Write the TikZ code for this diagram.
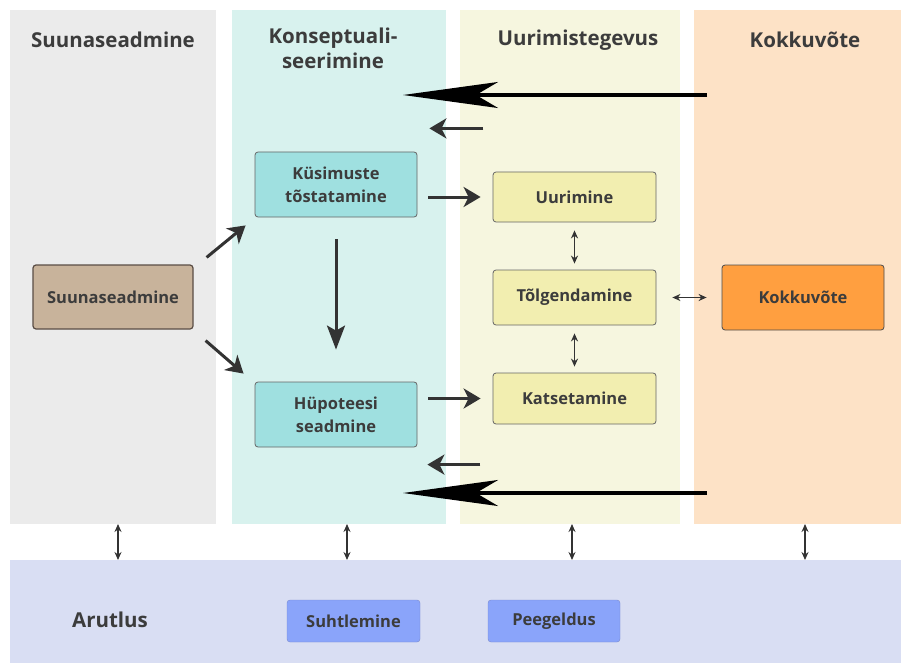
\documentclass[tikz,border=0pt]{standalone}
\usepackage{fontspec}
\setmainfont{Open Sans}
\usetikzlibrary{arrows.meta}
\definecolor{txt}{HTML}{3C3C3C}
\definecolor{lanegray}{HTML}{EBEBEB}
\definecolor{laneteal}{HTML}{D8F2EE}
\definecolor{laneyel}{HTML}{F6F6DF}
\definecolor{laneora}{HTML}{FDE2C6}
\definecolor{laneblue}{HTML}{D9DEF3}
\definecolor{tanfill}{HTML}{C8B39B}
\definecolor{tandraw}{HTML}{5A4D45}
\definecolor{tealfill}{HTML}{9FE0E0}
\definecolor{yelfill}{HTML}{F2EEB0}
\definecolor{orafill}{HTML}{FF9F40}
\definecolor{bluefill}{HTML}{8AA4FA}
\definecolor{bluedraw}{HTML}{7A8AD0}
\tikzset{
  lane/.style={rectangle, inner sep=0, outer sep=0, minimum width=#1},
  lanetitle/.style={font=\fontsize{20.5}{25}\selectfont\bfseries, text=txt, align=center},
  stepbox/.style={draw=black!60, rectangle, rounded corners=3, thick, minimum width=162pt, minimum height=#1,
    font=\fontsize{16.5}{23}\selectfont\bfseries, text=txt, align=center},
  bigarrow/.style={line width=3.8pt, -{Stealth[length=95pt, width=26pt, inset=22pt]}},
  midarrow/.style={line width=3pt, draw=black!80, -{Stealth[length=17pt, width=20pt, inset=5pt]}},
  thinarrow/.style={line width=1.4pt, draw=black!80, {Stealth[length=8pt, width=7pt]}-{Stealth[length=8pt, width=7pt]}}
}
\begin{document}
\begin{tikzpicture}[x=1pt, y=-1pt]
    \useasboundingbox (0,0) rectangle (901,663);
    % lanes
    \node[lane=206pt, minimum height=514pt, fill=lanegray] (sl) at (113,267) {};
    \node[lane=214pt, minimum height=514pt, fill=laneteal] (kl) at (339,267) {};
    \node[lane=220pt, minimum height=514pt, fill=laneyel] (ul) at (570,267) {};
    \node[lane=207pt, minimum height=514pt, fill=laneora] (ol) at (797.5,267) {};
    \node[lane=891pt, minimum height=103pt, fill=laneblue] (al) at (455.5,611.5) {};

    \node[lanetitle] at (113,40) {Suunaseadmine};
    \node[lanetitle] at (333,48) {Konseptuali-\\seerimine};
    \node[lanetitle] at (578,40) {Uurimistegevus};
    \node[lanetitle] at (805,40) {Kokkuvõte};
    \node[lanetitle] at (110,620) {Arutlus};

    % boxes
    \node[stepbox=64pt, minimum width=160pt, fill=tanfill, draw=tandraw, very thick] (suuna) at (113,297) {Suunaseadmine};
    \node[stepbox=65pt, fill=tealfill] (kys) at (336,184.5) {Küsimuste\\tõstatamine};
    \node[stepbox=65pt, fill=tealfill] (hyp) at (336,414.5) {Hüpoteesi\\seadmine};
    \node[stepbox=50pt, minimum width=163pt, fill=yelfill] (uur) at (574.5,197) {Uurimine};
    \node[stepbox=55pt, minimum width=163pt, fill=yelfill] (tolg) at (574.5,297.5) {Tõlgendamine};
    \node[stepbox=51pt, minimum width=163pt, fill=yelfill] (kats) at (574.5,398.5) {Katsetamine};
    \node[stepbox=65pt, fill=orafill, draw=black!70] (kokk) at (803,297.5) {Kokkuvõte};
    \node[stepbox=42pt, minimum width=133pt, fill=bluefill, draw=bluedraw, thin] (suht) at (353.5,621) {Suhtlemine};
    \node[stepbox=42pt, minimum width=132pt, fill=bluefill, draw=bluedraw, thin] (peeg) at (554,621) {Peegeldus};

    % free ends of the long arrows
    \coordinate (top1) at (707,95);
    \coordinate (top2) at (403,95);
    \coordinate (bot1) at (707,493);
    \coordinate (bot2) at (403,493);

    \draw[bigarrow] (top1) -- (top2);
    \draw[bigarrow] (bot1) -- (bot2);
    \draw[midarrow] (kys.south east) ++(66,-89) -- ++(-54,0);
    \draw[midarrow] (hyp.north east) ++(63,83) -- ++(-53,0);

    \draw[midarrow] ([xshift=11pt]kys.east |- uur.west) -- ([xshift=-12pt]uur.west);
    \draw[midarrow] ([xshift=11pt]hyp.east |- kats.west) -- ([xshift=-12pt]kats.west);
    \draw[midarrow] ([shift={(13pt,7pt)}]suuna.north east) -- ([shift={(-9pt,-8pt)}]kys.south west);
    \draw[midarrow] ([shift={(12pt,-11pt)}]suuna.south east) -- ([shift={(-11pt,8pt)}]hyp.north west);
    \draw[midarrow, -{Stealth[length=24pt, width=18pt, inset=5pt]}] ([yshift=-22pt]kys.south) -- ([yshift=32pt]hyp.north);

    \draw[thinarrow] ([yshift=-8pt]uur.south) -- ([yshift=6pt]tolg.north);
    \draw[thinarrow] ([yshift=-8pt]tolg.south) -- ([yshift=6pt]kats.north);
    \draw[thinarrow] ([xshift=16pt]tolg.east) -- ([xshift=-15pt]kokk.west);

    \draw[thinarrow] (sl.south -| 118,0) -- (al.north -| 118,0);
    \draw[thinarrow] (kl.south -| 347,0) -- (al.north -| 347,0);
    \draw[thinarrow] (ul.south -| 572,0) -- (al.north -| 572,0);
    \draw[thinarrow] (ol.south -| 805,0) -- (al.north -| 805,0);
\end{tikzpicture}
\end{document}
